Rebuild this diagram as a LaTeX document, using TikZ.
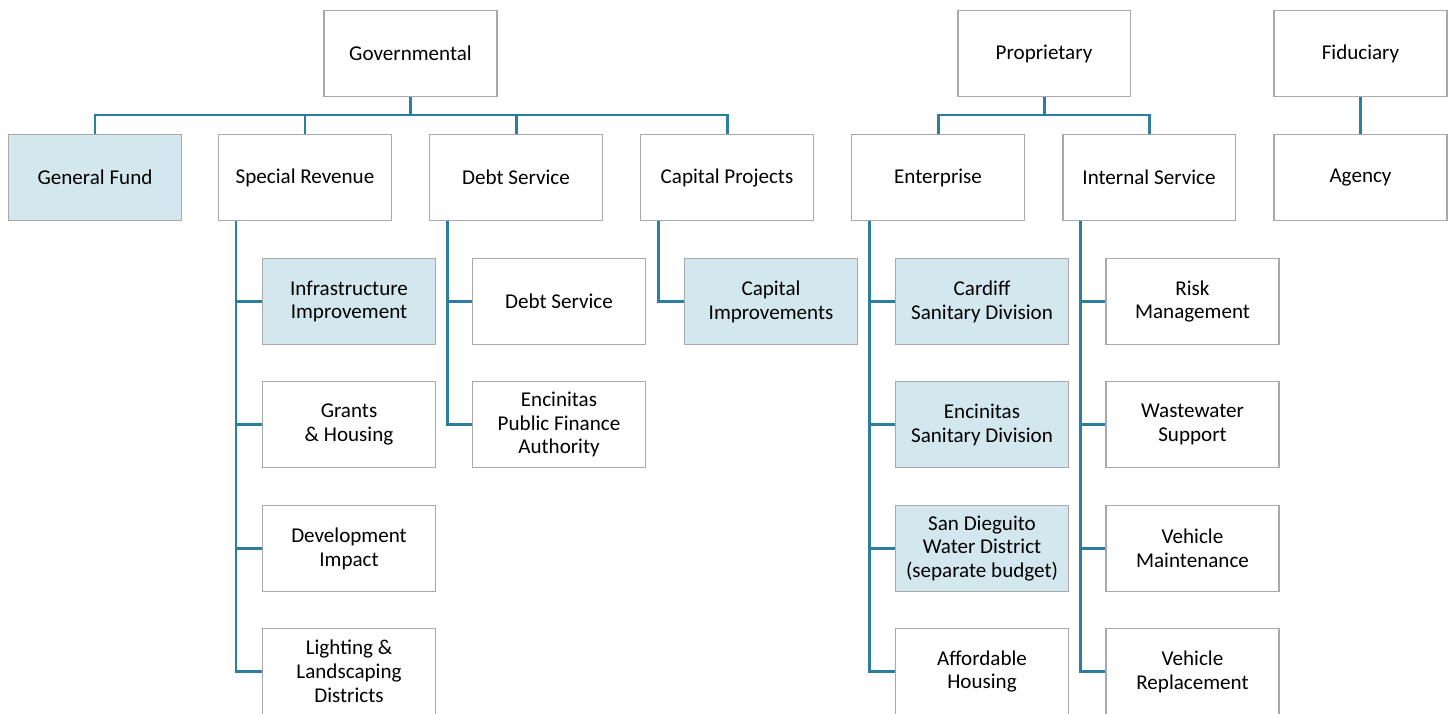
\documentclass[tikz,border=0pt]{standalone}
\usepackage{fontspec}
\setmainfont{Carlito}
\definecolor{linkblue}{HTML}{2C7DA0}
\definecolor{boxgray}{HTML}{A9A9A9}
\definecolor{fundblue}{HTML}{D3E7EF}
\tikzset{
  fund/.style={draw=boxgray, line width=1.1pt, fill=white, minimum width=3.46cm, minimum height=1.72cm,
    inner sep=2pt, align=center, font=\fontsize{12}{13.6}\selectfont},
  major/.style={fund, fill=fundblue},
  link/.style={draw=linkblue, line width=1.7pt}
}
\begin{document}
\begin{tikzpicture}[x=0.02cm, y=-0.02cm]
\clip (0,0) rectangle (1452,713);
\fill[white] (0,0) rectangle (1452,713);
%\tikzstyle{every node}=[draw];
% fund types
\node [fund] (gov) at (410.5,53.5) {Governmental};
\node [fund] (prop) at (1044,53.5) {Proprietary};
\node [fund] (fid) at (1360.5,53.5) {Fiduciary};
% fund groups
\node [major] (gf) at (95,177.5) {General Fund};
\node [fund] (sr) at (305,177.5) {Special Revenue};
\node [fund] (ds) at (516,177.5) {Debt Service};
\node [fund] (cp) at (727,177.5) {Capital Projects};
\node [fund] (ent) at (938,177.5) {Enterprise};
\node [fund] (is) at (1149,177.5) {Internal Service};
\node [fund] (ag) at (1360.5,177.5) {Agency};
% special revenue
\node [major] (sr1) at (349,301.5) {Infrastructure\\Improvement};
\node [fund] (sr2) at (349,424.5) {Grants\\\& Housing};
\node [fund] (sr3) at (349,548.5) {Development\\Impact};
\node [fund] (sr4) at (349,671.5) {Lighting \&\\Landscaping\\Districts};
% debt service
\node [fund] (ds1) at (559,301.5) {Debt Service};
\node [fund] (ds2) at (559,424.5) {Encinitas\\Public Finance\\Authority};
% capital projects
\node [major] (cp1) at (771,301.5) {Capital\\Improvements};
% enterprise
\node [major] (ent1) at (982,301.5) {Cardiff\\Sanitary Division};
\node [major] (ent2) at (982,424.5) {Encinitas\\Sanitary Division};
\node [major] (ent3) at (982,548.5) {San Dieguito\\Water District\\(separate budget)};
\node [fund] (ent4) at (982,671.5) {Affordable\\Housing};
% internal service
\node [fund] (is1) at (1192.5,301.5) {Risk\\Management};
\node [fund] (is2) at (1192.5,424.5) {Wastewater\\Support};
\node [fund] (is3) at (1192.5,548.5) {Vehicle\\Maintenance};
\node [fund] (is4) at (1192.5,671.5) {Vehicle\\Replacement};
% bus and trunk points
\coordinate (gbus) at (410.5,115);
\coordinate (pbus) at (1044,115);
\coordinate (srt) at (236,221);
\coordinate (dst) at (447,221);
\coordinate (cpt) at (658,221);
\coordinate (entt) at (869,221);
\coordinate (ist) at (1080,221);
\begin{scope}[on background layer/.try]
\draw [link] (gov) -- (gbus);
\draw [link] (gbus) -| (gf.north) (gbus) -| (sr.north) (gbus) -| (ds.north) (gbus) -| (cp.north);
\draw [link] (prop) -- (pbus);
\draw [link] (pbus) -| (ent.north) (pbus) -| (is.north);
\draw [link] (fid) -- (ag);
\draw [link] (srt) |- (sr4.west) (srt) |- (sr1.west) (srt) |- (sr2.west) (srt) |- (sr3.west);
\draw [link] (dst) |- (ds2.west) (dst) |- (ds1.west);
\draw [link] (cpt) |- (cp1.west);
\draw [link] (entt) |- (ent4.west) (entt) |- (ent1.west) (entt) |- (ent2.west) (entt) |- (ent3.west);
\draw [link] (ist) |- (is4.west) (ist) |- (is1.west) (ist) |- (is2.west) (ist) |- (is3.west);
\end{scope}
\end{tikzpicture}
\end{document}
